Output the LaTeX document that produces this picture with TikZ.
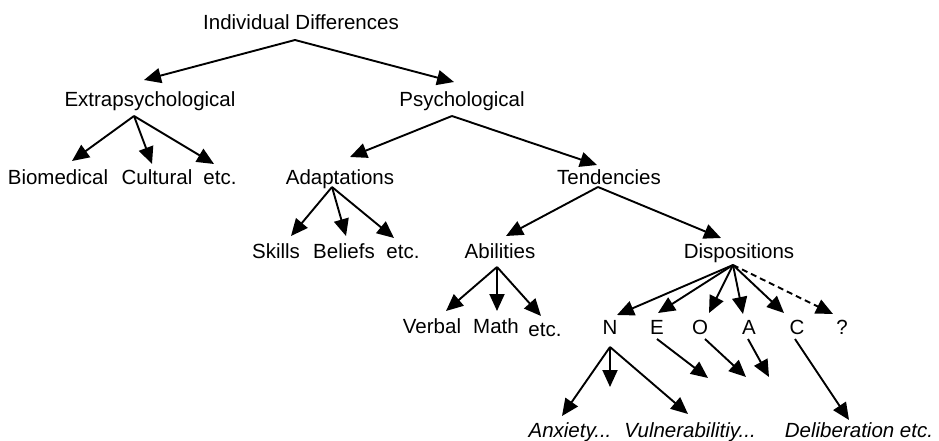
\documentclass[tikz,border=0pt]{standalone}
\usepackage{fontspec}
\setmainfont{Liberation Sans}
\usetikzlibrary{arrows.meta}
\begin{document}
\begin{tikzpicture}[x=1pt,y=-1pt,
  lbl/.style={inner sep=0pt,anchor=base,font=\fontsize{20.5}{24}\selectfont},
  ilbl/.style={lbl,font=\fontsize{20.5}{24}\selectfont\itshape},
  arr/.style={line width=1.9pt,-{Triangle[length=17pt,width=15pt]}},
  darr/.style={arr,dash pattern=on 6pt off 4pt}]
\useasboundingbox (0,0) rectangle (939,441);
% labels
\node[lbl] (id) at (301,30) {Individual Differences};
\node[lbl] (ext) at (150,107) {Extrapsychological};
\node[lbl] (psy) at (462,107) {Psychological};
\node[lbl] (bio) at (58,184) {Biomedical};
\node[lbl] (cul) at (157,184) {Cultural};
\node[lbl] (etca) at (220,184) {etc.};
\node[lbl] (ada) at (340,184) {Adaptations};
\node[lbl] (ten) at (609,184) {Tendencies};
\node[lbl] (ski) at (276,258) {Skills};
\node[lbl] (bel) at (344,258) {Beliefs};
\node[lbl] (etcb) at (403,258) {etc.};
\node[lbl] (abi) at (500,258) {Abilities};
\node[lbl] (dis) at (739,258) {Dispositions};
\node[lbl] (ver) at (432,333) {Verbal};
\node[lbl] (mat) at (496,333) {Math};
\node[lbl] (etcc) at (545,336) {etc.};
\node[lbl] (n) at (610,334) {N};
\node[lbl] (e) at (657,334) {E};
\node[lbl] (o) at (700,334) {O};
\node[lbl] (a) at (749,334) {A};
\node[lbl] (c) at (797,334) {C};
\node[lbl] (q) at (842,334) {?};
\node[ilbl] (anx) at (570,437) {Anxiety...};
\node[ilbl] (vul) at (690,437) {Vulnerabilitiy...};
\node[ilbl] (del) at (859,437) {Deliberation etc.};
% arrow origins and tips
\coordinate (o-id) at (295,40);
\coordinate (t-ext) at (144,80);
\coordinate (t-psy) at (454,82);
\coordinate (o-ext) at (134,116);
\coordinate (t-bio) at (72,161);
\coordinate (t-cul) at (152,164);
\coordinate (t-etca) at (214,164);
\coordinate (o-psy) at (452,116);
\coordinate (t-ada) at (350,157);
\coordinate (t-ten) at (597,165);
\coordinate (o-ada) at (332,187);
\coordinate (t-ski) at (291,236);
\coordinate (t-bel) at (346,236);
\coordinate (t-etcb) at (394,238);
\coordinate (o-ten) at (598,187);
\coordinate (t-abi) at (506,236);
\coordinate (t-dis) at (721,238);
\coordinate (o-abi) at (497,267);
\coordinate (t-ver) at (446,311);
\coordinate (t-mat) at (497,311);
\coordinate (t-etcc) at (541,316);
\coordinate (o-dis) at (733,265);
\coordinate (t-n) at (617,315);
\coordinate (t-e) at (658,313);
\coordinate (t-o) at (709,313);
\coordinate (t-a) at (743,314);
\coordinate (t-c) at (784,313);
\coordinate (t-q) at (833,314);
\coordinate (o-n) at (610,347);
\coordinate (t-anx) at (562,416);
\coordinate (t-nmid) at (610,387);
\coordinate (t-vul) at (688,414);
\coordinate (o-e) at (657,339);
\coordinate (t-ee) at (708,378);
\coordinate (o-o) at (705,339);
\coordinate (t-oo) at (746,377);
\coordinate (o-a) at (748,339);
\coordinate (t-aa) at (769,377);
\coordinate (o-c) at (795,339);
\coordinate (t-del) at (849,420);
% connectors
\draw[arr] (o-id) -- (t-ext);
\draw[arr] (o-id) -- (t-psy);
\draw[arr] (o-ext) -- (t-bio);
\draw[arr] (o-ext) -- (t-cul);
\draw[arr] (o-ext) -- (t-etca);
\draw[arr] (o-psy) -- (t-ada);
\draw[arr] (o-psy) -- (t-ten);
\draw[arr] (o-ada) -- (t-ski);
\draw[arr] (o-ada) -- (t-bel);
\draw[arr] (o-ada) -- (t-etcb);
\draw[arr] (o-ten) -- (t-abi);
\draw[arr] (o-ten) -- (t-dis);
\draw[arr] (o-abi) -- (t-ver);
\draw[arr] (o-abi) -- (t-mat);
\draw[arr] (o-abi) -- (t-etcc);
\draw[arr] (o-dis) -- (t-n);
\draw[arr] (o-dis) -- (t-e);
\draw[arr] (o-dis) -- (t-o);
\draw[arr] (o-dis) -- (t-a);
\draw[arr] (o-dis) -- (t-c);
\draw[darr] (o-dis) -- (t-q);
\draw[arr] (o-n) -- (t-anx);
\draw[arr] (o-n) -- (t-nmid);
\draw[arr] (o-n) -- (t-vul);
\draw[arr] (o-e) -- (t-ee);
\draw[arr] (o-o) -- (t-oo);
\draw[arr] (o-a) -- (t-aa);
\draw[arr] (o-c) -- (t-del);
\end{tikzpicture}
\end{document}
